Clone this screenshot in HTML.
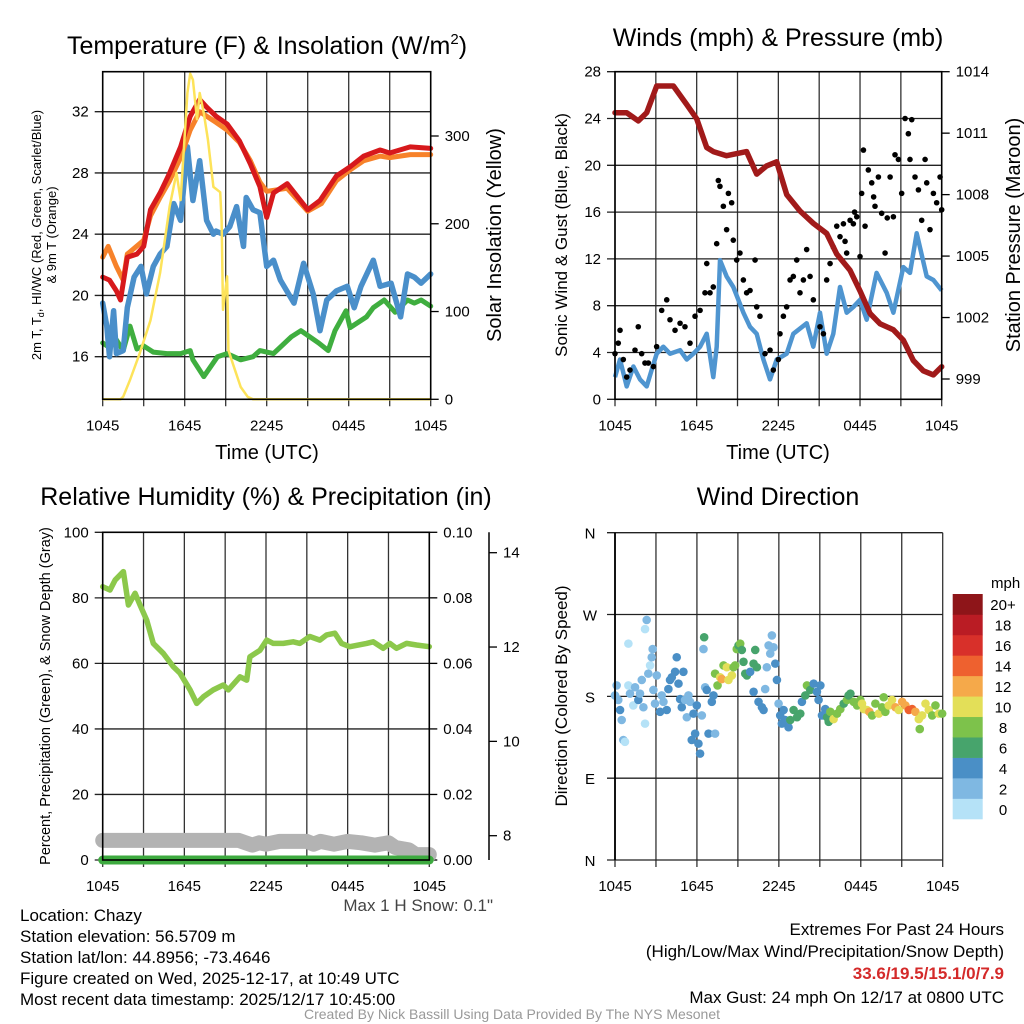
<!DOCTYPE html>
<html><head><meta charset="utf-8"><style>
html,body{margin:0;padding:0;background:#fff;}
svg{display:block;font-family:"Liberation Sans",Arial,sans-serif;}
</style></head><body>
<svg id="fig" width="1024" height="1024" viewBox="0 0 1024 1024" xmlns="http://www.w3.org/2000/svg">
<g id="titles" font-size="25" text-anchor="middle" fill="#000">
<text x="267" y="54">Temperature (F) &amp; Insolation (W/m<tspan font-size="15" dy="-10">2</tspan><tspan dy="10">)</tspan></text>
<text x="778" y="46">Winds (mph) &amp; Pressure (mb)</text>
<text x="266" y="505">Relative Humidity (%) &amp; Precipitation (in)</text>
<text x="778" y="505">Wind Direction</text>
</g>
<g font-size="20" text-anchor="middle">
<text x="267" y="459">Time (UTC)</text>
<text x="778" y="459">Time (UTC)</text>
<text transform="translate(501,235) rotate(-90)">Solar Insolation (Yellow)</text>
<text transform="translate(1020,235) rotate(-90)">Station Pressure (Maroon)</text>
</g>
<g font-size="13" text-anchor="middle">
<text transform="translate(41,235) rotate(-90)">2m T, T<tspan font-size="9" dy="3">d</tspan><tspan dy="-3">, HI/WC (Red, Green, Scarlet/Blue)</tspan></text>
<text transform="translate(56,235) rotate(-90)">&amp; 9m T (Orange)</text>
</g>
<text font-size="17" text-anchor="middle" transform="translate(567,235) rotate(-90)">Sonic Wind &amp; Gust (Blue, Black)</text>
<text font-size="14.5" text-anchor="middle" transform="translate(50,696) rotate(-90)">Percent, Precipitation (Green), &amp; Snow Depth (Gray)</text>
<text font-size="17" text-anchor="middle" transform="translate(567,696) rotate(-90)">Direction (Colored By Speed)</text>
<g id="p1"></g>
<g id="p2"></g>
<g id="p3"></g>
<g id="p4"></g>
<g id="cbar"></g>
<g font-size="17" fill="#000">
<text x="20" y="921">Location: Chazy</text>
<text x="20" y="942">Station elevation: 56.5709 m</text>
<text x="20" y="963">Station lat/lon: 44.8956; -73.4646</text>
<text x="20" y="984">Figure created on Wed, 2025-12-17, at 10:49 UTC</text>
<text x="20" y="1005">Most recent data timestamp: 2025/12/17 10:45:00</text>
<text x="493" y="911" text-anchor="end" fill="#444">Max 1 H Snow: 0.1"</text>
<text x="1004" y="935" text-anchor="end">Extremes For Past 24 Hours</text>
<text x="1004" y="957" text-anchor="end">(High/Low/Max Wind/Precipitation/Snow Depth)</text>
<text x="1004" y="979" text-anchor="end" fill="#d42a2a" font-weight="bold">33.6/19.5/15.1/0/7.9</text>
<text x="1004" y="1003" text-anchor="end">Max Gust: 24 mph On 12/17 at 0800 UTC</text>
</g>
<text x="512" y="1019" font-size="14" text-anchor="middle" fill="#999">Created By Nick Bassill Using Data Provided By The NYS Mesonet</text>
</svg>
<script>
// ---- data ----
const timeLabels = ["1045","1645","2245","0445","1045"];
const tempTicks = [16,20,24,28,32];
const solarTicks = [0,100,200,300];
const windTicks = [0,4,8,12,16,20,24,28];
const presTicks = [999,1002,1005,1008,1011,1014];
const rhTicks = [0,20,40,60,80,100];
const precipTicks = ["0.00","0.02","0.04","0.06","0.08","0.10"];
const snowTicks = [8,10,12,14];
const dirTicks = ["N","E","S","W","N"];
const cbarLabels = ["0","2","4","6","8","10","12","14","16","18","20+"];
const cbarColors = ["#b5e2f7","#7fb8e2","#4a8fc6","#47a46c","#7dc24b","#e3df58","#f5a94a","#ee612f","#d8302a","#ba1c24","#8e1519"];

const redT_h = [0,0.5,1,1.3,1.8,2.5,3,3.5,4.2,4.9,5.7,6.4,7.1,7.6,8.3,9.1,10,10.8,11.5,12,12.5,13.5,15,15.9,17.1,18.1,19.1,20.3,21,22.5,24];
const redT_v = [21.2,21.0,20.3,19.7,22.5,22.7,23.2,25.6,26.7,28,29.7,31.7,32.8,32.3,31.7,31.2,30.1,28.6,27.1,25.1,26.7,27.3,25.6,26.2,27.8,28.4,29.1,29.5,29.3,29.7,29.6];
const orgT_h = [0,0.4,1,1.5,1.8,3,3.5,4.2,4.9,5.7,6.4,7.1,8.3,9.1,10,10.8,11.5,12,13.5,15,16,17.1,18.1,19.1,20.3,21,22.5,24];
const orgT_v = [22.5,23.2,21.9,21.0,22.7,23.6,25.2,26.4,27.5,29.0,30.8,32.0,31.3,30.8,30.0,28.8,27.4,26.8,27.0,25.5,26.0,27.5,28.2,28.8,29.1,29.0,29.2,29.2];
const bluT_h = [0,0.3,0.5,0.8,1,1.5,1.8,2.3,2.8,3.2,3.7,4.2,4.7,5.2,5.7,6.2,6.6,7.1,7.6,8.1,8.3,8.8,9.3,9.8,10.3,10.5,11,11.5,12,12.5,13,14,14.7,15.4,15.9,16.4,17.1,17.9,18.4,18.9,19.8,20.3,21.1,21.8,22.3,22.8,23.3,24];
const bluT_v = [19.5,18,16,19,16.2,16.4,19.2,21.2,21.9,20.1,21.9,22.7,23.2,26,24.9,29.7,26.2,28.8,24.9,24,24.2,24,24.5,25.8,23.2,26.4,25.6,25.4,21.9,22.3,21,19.5,22.1,20.1,17.7,19.7,20.3,20.6,19.2,20.6,22.3,20.6,20.8,18.6,21.4,21.2,20.8,21.4];
const grnT_h = [0,0.5,1,1.5,2,2.5,3,3.7,4.7,5.7,6.4,6.6,7.4,8.4,9.1,10.1,11,11.5,12.5,13.8,14.5,15.8,16.5,17,17.8,18.1,19.3,19.8,20.6,21.4,22.3,22.8,23.3,24];
const grnT_v = [16.9,16.6,17.1,16.4,18,16.5,16.7,16.3,16.2,16.2,16.4,15.8,14.7,16,16.2,15.8,16,16.4,16.2,17.3,17.7,16.9,16.4,17.7,19,17.9,18.6,19.2,19.7,18.9,19.7,19.5,19.7,19.3];
const sol_h = [0,1.3,1.5,2.0,2.7,3.5,4.2,4.9,5.4,5.7,6.2,6.4,6.6,6.9,7.1,7.4,7.7,8.1,8.6,8.7,8.8,9.1,9.2,9.6,10.1,10.6,11,24];
const sol_v = [0,0,3,22,52,90,144,220,258,227,349,371,364,319,349,326,296,242,236,204,102,140,56,37,14,3,0,0];

const pres_h = [0,0.86,1.71,2.33,3.06,4.29,5.27,6.0,6.74,7.22,8.2,9.67,10.41,11.14,11.88,12.61,13.59,14.57,15.55,16.29,17.27,18.0,18.73,19.47,20.45,21.18,21.92,22.65,23.39,24];
const pres_v = [1012.0,1012.0,1011.6,1012.0,1013.3,1013.3,1012.4,1011.7,1010.3,1010.1,1009.9,1010.1,1009.0,1009.4,1009.6,1008.0,1007.2,1006.6,1006.1,1005.1,1004.3,1003.3,1002.2,1001.7,1001.4,1000.9,999.9,999.4,999.2,999.6];
const wind_h = [0,0.37,0.86,1.35,1.84,2.33,2.69,3.06,3.55,4.04,4.78,5.27,5.76,6.25,6.74,7.22,7.47,7.71,8.2,8.69,9.43,9.92,10.41,10.9,11.39,11.88,12.61,13.1,14.08,14.57,15.06,15.55,16.04,16.53,17.02,17.51,18.0,18.49,19.22,19.96,20.45,21.18,21.67,22.16,22.9,23.39,24];
const wind_v = [1.9,3.4,1.1,2.8,1.7,1.1,2.5,3.9,4.5,3.9,4.2,3.4,3.9,4.5,5.6,1.9,4.5,11.9,10.5,9.6,7.4,6.2,5.6,3.4,1.7,3.4,3.9,5.6,6.5,4.5,7.4,3.9,5.6,9.6,7.4,7.9,8.5,6.8,10.8,9.1,7.4,11.3,10.8,14.2,10.5,10.2,9.3];
const gust_h = [0,0.24,0.37,0.61,0.86,1.10,1.47,1.71,1.96,2.20,2.45,2.82,3.06,3.43,3.80,4.04,4.41,4.78,5.14,5.51,5.88,6.25,6.61,6.74,6.98,7.22,7.47,7.59,7.71,7.96,8.20,8.33,8.57,8.69,8.94,9.18,9.43,9.67,9.92,10.29,10.41,10.65,11.02,11.39,11.63,12.0,12.12,12.37,12.61,12.86,13.10,13.35,13.59,13.84,14.08,14.33,14.57,15.06,15.31,15.55,15.80,16.04,16.29,16.53,16.78,17.02,17.27,17.51,17.76,18.0,18.12,18.25,18.37,18.61,18.86,19.10,19.35,19.59,19.84,20.21,20.45,20.57,20.82,21.06,21.31,21.55,21.67,21.80,22.04,22.29,22.53,22.78,22.90,23.14,23.39,23.63,23.88,24.0,16.9,17.6,19.0,20.0];
const gust_v = [3.9,4.8,5.9,3.4,1.9,2.5,4.2,6.2,3.9,3.1,3.1,2.8,4.5,7.6,8.5,6.8,5.9,6.5,6.2,4.8,7.1,7.6,9.1,11.6,9.1,9.6,13.3,18.7,18.2,16.5,14.5,17.6,16.8,13.6,11.9,12.5,10.2,9.1,9.3,11.9,7.9,7.1,3.9,4.2,2.5,3.4,5.6,7.1,7.9,10.2,10.5,11.9,9.1,10.2,12.8,10.5,8.5,6.2,5.6,10.2,11.6,13.0,14.8,13.9,15.0,12.5,15.3,15.0,15.6,12.2,17.6,21.3,14.8,19.6,18.5,16.5,19.0,15.9,12.5,19.0,15.6,20.9,20.5,17.6,24.0,22.7,20.5,23.9,19.0,17.9,15.3,20.5,18.5,14.5,17.6,16.8,19.0,16.2,13.5,16.0,17.3,15.5];

const rh_h = [0,0.54,0.91,1.52,1.89,2.38,2.74,3.23,3.72,4.46,5.19,5.68,6.42,6.91,7.40,8.13,8.86,9.23,10.09,10.58,10.82,11.56,12.05,12.54,13.27,14.0,14.49,15.22,15.96,16.45,17.06,17.55,18.16,19.39,19.88,20.61,21.10,21.59,22.33,23.06,24];
const rh_v = [83.4,82.4,85.4,88,77.8,81.4,77.8,73.2,66.1,63,59,57,51.9,47.8,49.8,51.9,53.4,51.9,55.9,54.9,62,64,67.1,66.1,66.1,66.6,66.1,68.2,67.1,68.7,69.2,66.1,65.1,66.1,66.6,64.6,66.1,64.6,66.1,65.6,65.1];
const snow_h = [0,10,10.5,11,11.5,12,13,15,15.5,16,17,18,19,20,21,21.5,22.5,23,24];
const snow_v = [7.9,7.9,7.85,7.8,7.85,7.82,7.88,7.88,7.82,7.88,7.82,7.88,7.85,7.8,7.85,7.75,7.7,7.6,7.6];
const precip_h = [0,24];
const precip_v = [0,0];

const dir_h = [0,0.12,0.24,0.37,0.49,0.61,0.73,0.98,0.98,1.10,1.34,1.47,1.71,1.83,1.96,2.08,2.20,2.32,2.20,2.44,2.57,2.69,2.76,2.81,2.93,3.06,3.30,3.42,3.55,3.79,3.91,4.03,4.16,4.40,4.52,4.65,4.77,4.89,5.01,5.13,5.26,5.38,5.50,5.75,5.87,5.62,5.99,6.11,6.23,6.36,6.48,6.53,6.60,6.72,6.85,7.09,7.21,7.33,7.33,7.51,7.70,7.82,7.95,8.19,8.31,8.56,8.68,8.80,8.92,9.05,9.17,9.29,9.41,9.54,9.66,9.90,10.15,10.27,10.39,10.15,10.51,10.76,10.88,11.00,11.12,11.25,11.37,11.49,11.61,11.74,11.86,11.98,12.10,12.22,12.35,12.47,12.71,12.84,13.08,13.33,13.57,13.69,13.94,14.06,14.30,14.55,14.79,14.91,15.04,15.16,15.40,15.53,15.65,15.77,16.01,16.26,16.50,16.75,16.99,17.11,17.24,17.48,17.73,17.97,18.09,18.22,18.46,18.63,18.83,19.07,19.32,19.56,19.68,19.80,20.05,20.29,20.54,20.78,21.03,21.27,21.52,21.76,22.00,22.25,22.32,22.49,22.74,22.98,23.23,23.47,23.72,23.96];
const dir_v = [181,192,176,165,154,132,130,238,192,183,170,190,176,183,198,168,150,264,254,205,214,223,232,187,172,203,163,181,174,165,188,198,201,207,223,194,177,168,207,176,157,181,174,161,139,132,170,128,117,159,232,245,190,187,139,174,181,139,205,192,201,199,214,212,198,203,212,214,232,236,238,231,218,205,203,207,216,231,212,185,174,168,165,188,212,236,227,247,234,216,198,172,159,150,165,154,146,154,165,157,161,174,181,192,187,194,185,176,192,159,166,157,152,163,155,161,166,172,176,181,183,174,170,176,172,166,165,163,159,172,161,168,179,163,170,176,168,165,174,170,165,166,163,155,144,159,172,165,159,170,161,161];
const dir_spd = [3,3,3,5,3,3,1,1,1,3,1,3,5,3,3,3,1,3,1,3,1,3,3,3,3,3,5,3,3,5,5,5,5,5,5,5,5,5,5,3,3,3,3,5,5,5,5,5,5,3,3,7,3,5,5,5,5,3,9,9,11,13,9,11,11,11,9,9,9,7,9,7,7,7,7,5,7,7,7,5,5,5,5,3,3,3,3,3,3,5,5,3,5,5,5,5,5,7,7,7,7,5,7,9,7,5,5,5,5,5,5,7,7,9,11,9,9,7,9,7,7,9,9,9,11,11,11,13,9,9,11,9,9,9,11,11,13,11,13,13,15,15,13,11,9,11,11,11,9,9,11,9];

// ---- helpers ----
const NS = "http://www.w3.org/2000/svg";
function mk(parent, tag, attrs){
  const e = document.createElementNS(NS, tag);
  for (const k in attrs) e.setAttribute(k, attrs[k]);
  parent.appendChild(e);
  return e;
}
function lin(d0,d1,r0,r1){ return v => r0 + (v-d0)*(r1-r0)/(d1-d0); }
function pathD(hs, vs, xf, yf){
  return hs.map((h,i)=>(i?"L":"M")+xf(h).toFixed(1)+","+yf(vs[i]).toFixed(1)).join("");
}
function frame(g, P, yTicks, yf, gridY){
  const xf = lin(0,24,P.x0,P.x1);
  for (let h=0; h<=24; h+=3){
    const gl = mk(g,"line",{x1:xf(h),x2:xf(h),y1:P.y0,y2:P.y1+7,stroke:"#333","stroke-width":1.3});
    
    
  }
  yTicks.forEach(v=>{
    if (gridY){
      const hl = mk(g,"line",{x1:P.x0-8,x2:P.x1,y1:yf(v),y2:yf(v),stroke:"#222","stroke-width":1.3});
      
      
    }
  });
  timeLabels.forEach((t,i)=>{
    const tx = mk(g,"text",{x:xf(i*6),y:P.y1+31,"font-size":15,"text-anchor":"middle"});
    tx.textContent = t;
    
    
  });
  return xf;
}
function axisBox(g,P){
  const b = mk(g,"rect",{x:P.x0,y:P.y0,width:P.x1-P.x0,height:P.y1-P.y0,fill:"none",stroke:"#000","stroke-width":1.6});
  
  
}
function leftLabels(g,P,ticks,yf,labels){
  ticks.forEach((v,i)=>{
    const t = mk(g,"text",{x:P.x0-14,y:yf(v)+5,"font-size":15,"text-anchor":"end"});
    t.textContent = labels ? labels[i] : v;
    
    
  });
}
function rightLabels(g,P,ticks,yf,labels,gap){
  ticks.forEach((v,i)=>{
    mk(g,"line",{x1:P.x1,x2:P.x1+8,y1:yf(v),y2:yf(v),stroke:"#000","stroke-width":1.3});
    const t = mk(g,"text",{x:P.x1+(gap||14),y:yf(v)+5,"font-size":15,"text-anchor":"start"});
    t.textContent = labels ? labels[i] : v;
    
    
  });
}

// ---- panel 1 ----
(function(){
  const g = document.getElementById("p1");
  const P = {x0:102.7,x1:430.7,y0:71.7,y1:399.3};
  const yT = lin(32,16,111.7,356.7);
  const yS = lin(0,300,399.3,136);
  const xf = frame(g,P,tempTicks,yT,true);
  leftLabels(g,P,tempTicks,yT);
  rightLabels(g,P,solarTicks,yS);
  const series = [
    [grnT_h,grnT_v,"#3fae3f",5,"dewpoint-line"],
    [bluT_h,bluT_v,"#4a8fca",5.5,"windchill-line"],
    [orgT_h,orgT_v,"#f7822a",5,"temp-9m-line"],
    [redT_h,redT_v,"#d7191c",5,"temp-2m-line"]
  ];
  series.forEach(s=>{
    const p = mk(g,"path",{d:pathD(s[0],s[1],xf,yT),fill:"none",stroke:s[2],"stroke-width":s[3],"stroke-linejoin":"round","stroke-linecap":"round"});
    
    
  });
  const sp = mk(g,"path",{d:pathD(sol_h,sol_v,xf,yS),fill:"none",stroke:"#fde35a","stroke-width":2.5,"stroke-linejoin":"round"});
  
  
  axisBox(g,P);
})();

// ---- panel 2 ----
(function(){
  const g = document.getElementById("p2");
  const P = {x0:615,x1:941.7,y0:71.7,y1:399.3};
  const yW = lin(0,28,399.3,71.7);
  const yP = lin(999,1014,379,71.7);
  const xf = frame(g,P,windTicks,yW,true);
  leftLabels(g,P,windTicks,yW);
  rightLabels(g,P,presTicks,yP);
  const wp = mk(g,"path",{d:pathD(wind_h,wind_v,xf,yW),fill:"none",stroke:"#4f95d0","stroke-width":4.5,"stroke-linejoin":"round"});
  
  
  gust_h.forEach((h,i)=>{
    const c = mk(g,"circle",{cx:xf(h),cy:yW(gust_v[i]),r:2.8,fill:"#000"});
    
    
  });
  const pp = mk(g,"path",{d:pathD(pres_h,pres_v,xf,yP),fill:"none",stroke:"#a11a1a","stroke-width":5.5,"stroke-linejoin":"round","stroke-linecap":"round"});
  
  
  axisBox(g,P);
})();

// ---- panel 3 ----
(function(){
  const g = document.getElementById("p3");
  const P = {x0:102.7,x1:429.3,y0:532.3,y1:860};
  const yR = lin(0,100,860,532.3);
  const ySn = lin(8,14,835.7,552.7);
  const xf = frame(g,P,rhTicks,yR,true);
  leftLabels(g,P,rhTicks,yR);
  rightLabels(g,P,rhTicks,yR,precipTicks);
  const ax = mk(g,"line",{x1:489,x2:489,y1:532.3,y2:860,stroke:"#000","stroke-width":1.5});
  
  
  snowTicks.forEach(v=>{
    mk(g,"line",{x1:489,x2:497,y1:ySn(v),y2:ySn(v),stroke:"#000","stroke-width":1.3});
    const t = mk(g,"text",{x:503,y:ySn(v)+5,"font-size":15});
    t.textContent = v;
    
    
  });
  const sn = mk(g,"path",{d:pathD(snow_h,snow_v,xf,ySn),fill:"none",stroke:"#b3b3b3","stroke-width":15,"stroke-linejoin":"round","stroke-linecap":"round"});
  
  
  const pr = mk(g,"path",{d:pathD(precip_h,precip_v,xf,yR),fill:"none",stroke:"#3daa3f","stroke-width":9,"stroke-linecap":"round"});
  
  
  const rp = mk(g,"path",{d:pathD(rh_h,rh_v,xf,yR),fill:"none",stroke:"#8cc84b","stroke-width":5.5,"stroke-linejoin":"round","stroke-linecap":"round"});
  
  
  axisBox(g,P);
})();

// ---- panel 4 ----
(function(){
  const g = document.getElementById("p4");
  const P = {x0:615,x1:942.7,y0:532.7,y1:860};
  const yD = lin(0,360,860,532.7);
  const degTicks = [0,90,180,270,360];
  const xf = frame(g,P,degTicks,yD,true);
  degTicks.forEach((v,i)=>{
    const t = mk(g,"text",{x:P.x0-25,y:yD(v)+6,"font-size":15,"text-anchor":"middle"});
    t.textContent = dirTicks[i];
    
    
  });
  function col(s){ return cbarColors[Math.min(10,Math.max(0,Math.floor(s/2)))]; }
  dir_h.forEach((h,i)=>{
    const c = mk(g,"circle",{cx:xf(h),cy:yD(dir_v[i]),r:4.3,fill:col(dir_spd[i])});
    
    
  });
  mk(g,"line",{x1:P.x0,x2:P.x0,y1:P.y0,y2:P.y1,stroke:"#000","stroke-width":1.8});
  const cb = document.getElementById("cbar");
  const top = 594, bot = 819, n = cbarColors.length, hb = (bot-top)/n;
  cbarColors.forEach((c,i)=>{
    const r = mk(cb,"rect",{x:952.7,y:bot-(i+1)*hb,width:30,height:hb+0.3,fill:c});
    
    
    const t = mk(cb,"text",{x:1003,y:bot-(i+0.5)*hb+6,"font-size":15,"text-anchor":"middle"});
    t.textContent = cbarLabels[i];
    
    
  });
  const m = mk(cb,"text",{x:991,y:588,"font-size":15});
  m.textContent = "mph";
  
  
})();
</script>
</body></html>
